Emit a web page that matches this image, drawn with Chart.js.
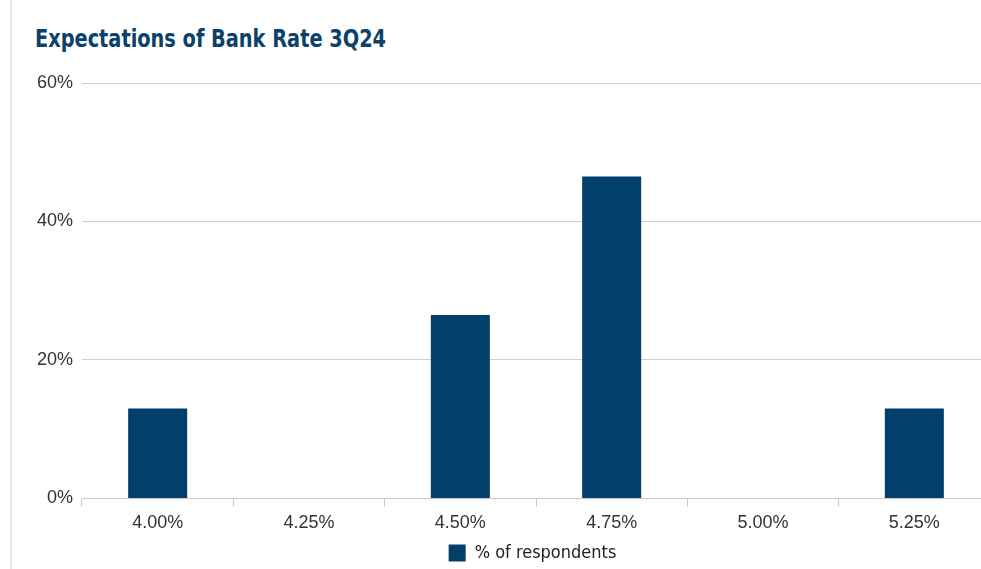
<!DOCTYPE html>
<html>
<head>
<meta charset="utf-8">
<script src="https://cdn.jsdelivr.net/npm/chart.js@4/dist/chart.umd.min.js"></script>
<style>
  html, body { margin: 0; padding: 0; background: #fff; overflow: hidden; width: 981px; height: 569px; }
  #border { position: absolute; left: 10px; top: 0; width: 2px; height: 569px; background: #e8e8e8; }
  #title { position: absolute; left: 35px; top: 24px; font-family: "DejaVu Sans Condensed", sans-serif; font-weight: bold; font-size: 25px; color: #0b416b; white-space: nowrap; transform: scaleX(0.86); transform-origin: left top; }
  #wrap { position: absolute; left: 0; top: 0; width: 990px; height: 569px; }
</style>
</head>
<body>
<div id="border"></div>
<div id="title">Expectations of Bank Rate 3Q24</div>
<div id="wrap"><canvas id="c" width="990" height="569"></canvas></div>
<script>
const categories = ["4.00%", "4.25%", "4.50%", "4.75%", "5.00%", "5.25%"];
const respondents = [13, 0, 26.5, 46.5, 0, 13];
const yTicks = [0, 20, 40, 60];
const seriesName = "% of respondents";

const legendShift = {
  id: 'legendShift',
  afterLayout(chart) {
    const l = chart.legend;
    if (!l) return;
    l.left = 75;
  }
};

const ctx = document.getElementById('c');
new Chart(ctx, {
  type: 'bar',
  data: {
    labels: categories,
    datasets: [{
      label: seriesName,
      data: respondents,
      backgroundColor: '#023f6b',
      borderWidth: 0,
      categoryPercentage: 1,
      barPercentage: 0.39
    }]
  },
  options: {
    responsive: false,
    animation: false,
    devicePixelRatio: 1,
    layout: { padding: { top: 83, left: 0, right: 0, bottom: -3 } },
    scales: {
      x: {
        grid: { display: true, drawOnChartArea: false, drawTicks: true, tickLength: 8, color: '#c8c8c8', offset: true },
        border: { display: true, color: '#c8c8c8', width: 1 },
        ticks: { color: '#333', padding: 6, font: { family: '"Liberation Sans", Arial, sans-serif', size: 18 } }
      },
      y: {
        min: 0, max: 60,
        afterFit: (s) => { s.width = 82; },
        afterBuildTicks: (s) => { s.ticks = yTicks.map(v => ({ value: v })); },
        grid: { color: '#cfcfcf', drawTicks: false, lineWidth: 1 },
        border: { display: false },
        ticks: { color: '#333', padding: 9, font: { family: '"Liberation Sans", Arial, sans-serif', size: 18 }, callback: (v) => v + '%' }
      }
    },
    plugins: {
      legend: {
        position: 'bottom',
        labels: {
          boxWidth: 17, boxHeight: 17, padding: 4,
          color: '#222',
          font: { family: '"DejaVu Sans Condensed", sans-serif', size: 18 }
        }
      },
      tooltip: { enabled: false },
      title: { display: false }
    }
  },
  plugins: [legendShift]
});
</script>
</body>
</html>
